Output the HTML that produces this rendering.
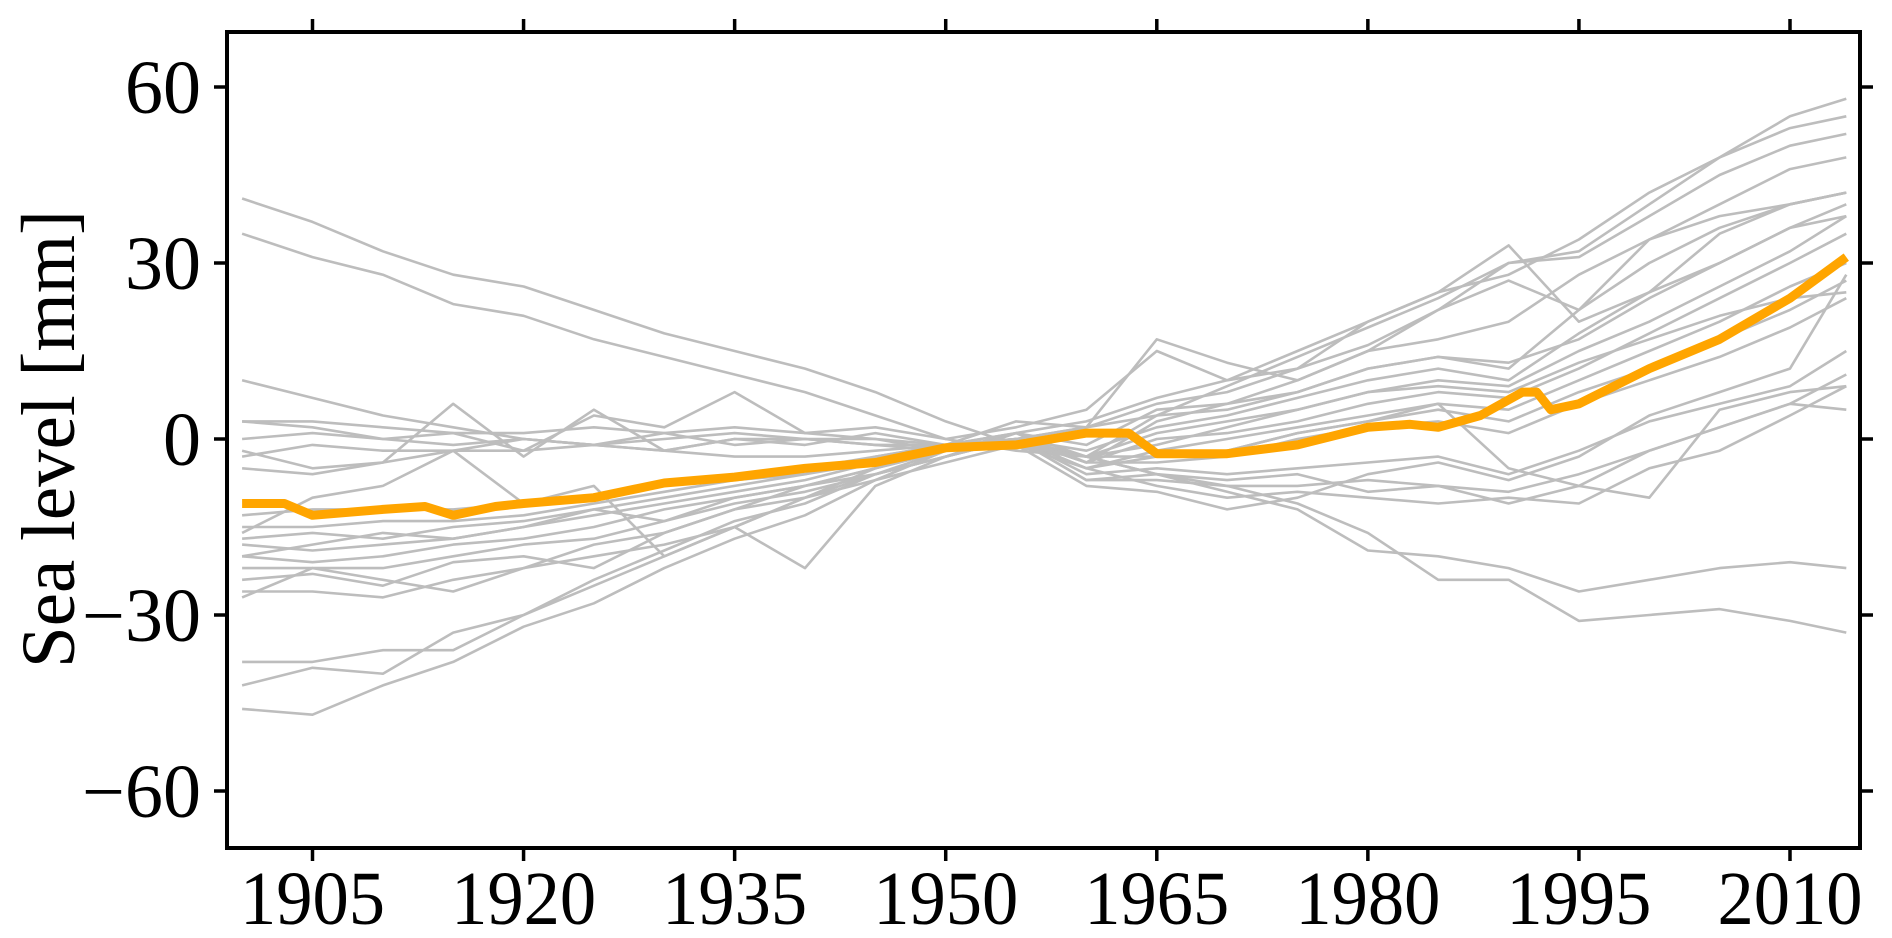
<!DOCTYPE html>
<html><head><meta charset="utf-8"><style>
html,body{margin:0;padding:0;background:#fff;}
svg{display:block;}
text{font-family:"Liberation Serif",serif;fill:#000;}
</style></head><body>
<svg id="chart" width="1892" height="938" viewBox="0 0 1892 938" xmlns="http://www.w3.org/2000/svg">
<g id="lines"></g>
<g id="axes"></g>
</svg>
<script>
const years = [1900,1905,1910,1915,1920,1925,1930,1935,1940,1945,1950,1955,1960,1965,1970,1975,1980,1985,1990,1995,2000,2005,2010,2014];
const s01=[41,37,32,28,26,22,18,15,12,8,3,-1,-3,-6,-9,-12,-19,-20,-22,-26,-24,-22,-21,-22];
const s02=[35,31,28,23,21,17,14,11,8,4,0,-2,-3,-6,-8,-11,-16,-24,-24,-31,-30,-29,-31,-33];
const s03=[-46,-47,-42,-38,-32,-28,-22,-17,-13,-7,-2,0,2,4,9,14,19,24,30,32,40,48,55,58];
const s04=[-42,-39,-40,-33,-30,-25,-20,-15,-10,-5,-1,1,3,7,10,15,20,25,28,34,42,48,53,55];
const s05=[-38,-38,-36,-36,-30,-24,-19,-14,-11,-6,-2,0,2,6,8,12,16,22,30,31,38,45,50,52];
const s06=[-27,-22,-24,-26,-22,-18,-16,-12,-8,-5,-2,1,-1,5,6,10,15,17,20,28,34,40,46,48];
const s07=[-26,-26,-27,-24,-22,-20,-18,-15,-10,-6,-3,0,-3,4,5,8,12,14,12,22,30,36,40,42];
const s08=[-22,-22,-22,-20,-18,-17,-14,-11,-9,-6,-3,0,-2,2,4,7,10,12,10,18,25,30,36,40];
const s09=[-20,-21,-20,-18,-17,-15,-12,-10,-8,-5,-2,0,-3,1,3,5,8,10,9,15,20,26,32,38];
const s10=[-18,-19,-18,-17,-15,-13,-11,-9,-7,-4,-2,0,-4,0,1,3,6,8,7,12,18,24,30,35];
const s11=[-17,-16,-17,-15,-14,-12,-10,-8,-6,-4,-2,0,-5,-2,0,2,4,6,5,10,15,20,26,30];
const s12=[-15,-15,-14,-14,-13,-11,-9,-7,-6,-3,-1,0,-5,-3,-2,1,3,5,3,8,12,17,22,27];
const s13=[-13,-12,-12,-12,-11,-10,-8,-6,-5,-3,-1,1,-4,-4,-3,0,2,3,1,6,10,14,19,24];
const s14=[10,7,4,2,0,-1,-2,-3,-3,-2,-1,0,-6,-5,-6,-5,-4,-3,-6,-2,3,6,9,15];
const s15=[3,3,2,1,1,2,1,2,1,0,-1,0,-7,-7,-8,-8,-7,-8,-9,-6,-2,2,6,11];
const s16=[0,1,0,-1,0,-1,0,1,0,-1,-2,-1,-5,-8,-10,-9,-10,-11,-10,-11,-5,-2,4,9];
const s17=[-3,-1,-2,-2,0,-1,1,-1,0,0,-2,-1,-3,-3,-2,1,3,6,-5,-8,-2,2,6,5];
const s18=[3,2,0,1,-2,4,2,8,1,2,0,2,5,15,10,12,20,25,33,20,25,35,40,42];
const s19=[-2,-5,-4,6,-3,5,-2,0,-1,1,-1,3,2,17,13,10,15,22,27,22,34,38,40,42];
const s20=[-16,-10,-8,-2,-11,-8,-20,-15,-22,-8,-3,0,-4,3,6,8,12,14,13,17,24,30,36,38];
const s21=[-24,-23,-25,-21,-20,-22,-16,-12,-10,-7,-4,-1,-8,-9,-12,-10,-6,-4,-7,-3,4,8,12,28];
const s22=[-20,-18,-16,-17,-15,-12,-14,-10,-8,-6,-3,1,-3,-1,2,5,8,9,8,13,17,21,24,25];
const s23=[-5,-6,-4,-2,-2,-1,-2,0,0,-1,-1,0,-7,-6,-7,-6,-9,-8,-11,-8,-10,5,8,9];
const greySeries=[s01,s02,s03,s04,s05,s06,s07,s08,s09,s10,s11,s12,s13,s14,s15,s16,s17,s18,s19,s20,s21,s22,s23];

const meanYears=[1900,1903,1905,1910,1913,1915,1918,1920,1925,1930,1935,1940,1945,1950,1955,1960,1963,1965,1970,1975,1980,1983,1985,1988,1991,1992,1993,1995,2000,2005,2010,2014];
const meanValues=[-11,-11,-13,-12,-11.5,-13,-11.5,-11,-10,-7.5,-6.5,-5,-4,-1.5,-1,1,1,-2.5,-2.5,-1,2,2.5,2,4,8,8,5,6,12,17,24,31];

const xTicks=[1905,1920,1935,1950,1965,1980,1995,2010];
const yTicks=[60,30,0,-30,-60];
const yTickLabels=["60","30","0","\u221230","\u221260"];

const L=227,R=1860,T=32,B=848;
function xs(y){return 312.5+(y-1905)*(1790-312.5)/(2010-1905);}
function ys(v){return 439-v*(439-87)/60;}
const NS="http://www.w3.org/2000/svg";
const gl=document.getElementById('lines'), ga=document.getElementById('axes');
function mk(tag,attrs,parent){const e=document.createElementNS(NS,tag);for(const k in attrs)e.setAttribute(k,attrs[k]);parent.appendChild(e);return e;}

greySeries.forEach((s,i)=>{
  const d=s.map((v,j)=>(j?'L':'M')+xs(years[j]).toFixed(1)+','+ys(v).toFixed(1)).join('');
  const p=mk('path',{d:d,fill:'none',stroke:'#bdbdbd','stroke-width':2.6,'stroke-linejoin':'round'},gl);
  
  
});
{
  const d=meanValues.map((v,j)=>(j?'L':'M')+xs(meanYears[j]).toFixed(1)+','+ys(v).toFixed(1)).join('');
  const p=mk('path',{d:d,fill:'none',stroke:'#ffa500','stroke-width':9,'stroke-linejoin':'round'},gl);
  
  
}
const fr=mk('rect',{x:L,y:T,width:R-L,height:B-T,fill:'none',stroke:'#000','stroke-width':4},ga);


xTicks.forEach(t=>{
  const x=xs(t);
  mk('line',{x1:x,x2:x,y1:B,y2:B+13,stroke:'#000','stroke-width':3.5},ga);
  mk('line',{x1:x,x2:x,y1:T,y2:T-13,stroke:'#000','stroke-width':3.5},ga);
  const tx=mk('text',{x:x,y:B+76,'text-anchor':'middle','font-size':76,textLength:145,lengthAdjust:'spacingAndGlyphs'},ga);
  tx.textContent=t;
  
  
});
yTicks.forEach((t,i)=>{
  const y=ys(t);
  mk('line',{x1:L,x2:L-13,y1:y,y2:y,stroke:'#000','stroke-width':3.5},ga);
  mk('line',{x1:R,x2:R+13,y1:y,y2:y,stroke:'#000','stroke-width':3.5},ga);
  const tx=mk('text',{x:L-26,y:y+26,'text-anchor':'end','font-size':76},ga);
  tx.textContent=yTickLabels[i];
  
  
});
const yl=mk('text',{x:0,y:0,'text-anchor':'middle','font-size':76,textLength:458,lengthAdjust:'spacingAndGlyphs',transform:'translate(74,439) rotate(-90)'},ga);
yl.textContent='Sea level [mm]';


</script>
</body></html>
